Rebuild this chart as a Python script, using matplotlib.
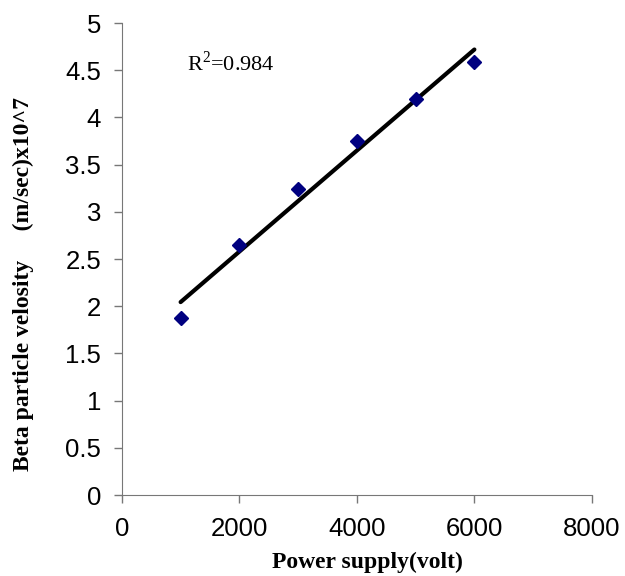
import matplotlib
matplotlib.use("Agg")
import matplotlib.pyplot as plt
import numpy as np

plt.rcParams['mathtext.fontset'] = 'custom'
plt.rcParams['mathtext.rm'] = 'Liberation Serif'

# data
voltage = [1000, 2000, 3000, 4000, 5000, 6000]
velocity = [1.87, 2.65, 3.24, 3.75, 4.19, 4.59]
x_ticks = [0, 2000, 4000, 6000, 8000]
y_ticks = [0, 0.5, 1, 1.5, 2, 2.5, 3, 3.5, 4, 4.5, 5]

fig = plt.figure(figsize=(6.25, 5.76), dpi=100)
ax = fig.add_axes([0.195, 0.1406, 0.752, 0.8194])

# linear trendline through the data
slope, intercept = np.polyfit(voltage, velocity, 1)
fit_x = np.array([voltage[0], voltage[-1]])
ax.plot(fit_x, slope * fit_x + intercept, color='black', linewidth=3,
        solid_capstyle='round', zorder=2)
ax.plot(voltage, velocity, linestyle='none', marker='D', markersize=7.5,
        color='#000080', zorder=3)

ax.set_xlim(0, 8000)
ax.set_ylim(0, 5)
ax.set_xticks(x_ticks)
ax.set_yticks(y_ticks)
ax.set_yticklabels([f'{v:g}' for v in y_ticks])
ax.tick_params(labelsize=18.5, length=6, width=1, color='#777777')
ax.tick_params(axis='y', pad=9)
ax.tick_params(axis='x', pad=10)
for lab in ax.get_xticklabels() + ax.get_yticklabels():
    lab.set_family('Liberation Sans')

ax.spines['top'].set_visible(False)
ax.spines['right'].set_visible(False)
ax.spines['left'].set_color('#777777')
ax.spines['bottom'].set_color('#777777')

ax.set_xlabel('Power supply(volt)', family='Liberation Serif', fontweight='bold',
              fontsize=17, va='center')
ax.xaxis.set_label_coords(0.523, -0.142)
ax.set_ylabel('Beta particle velosity     (m/sec)x10^7', family='Liberation Serif',
              fontweight='bold', fontsize=17, va='center')
ax.yaxis.set_label_coords(-0.21, 0.447)

ax.text(0.138, 0.915, r'R$^\mathrm{2}$=0.984', transform=ax.transAxes,
        family='Liberation Serif', fontsize=16, va='center', ha='left')

fig.savefig('out.png', dpi=100)
